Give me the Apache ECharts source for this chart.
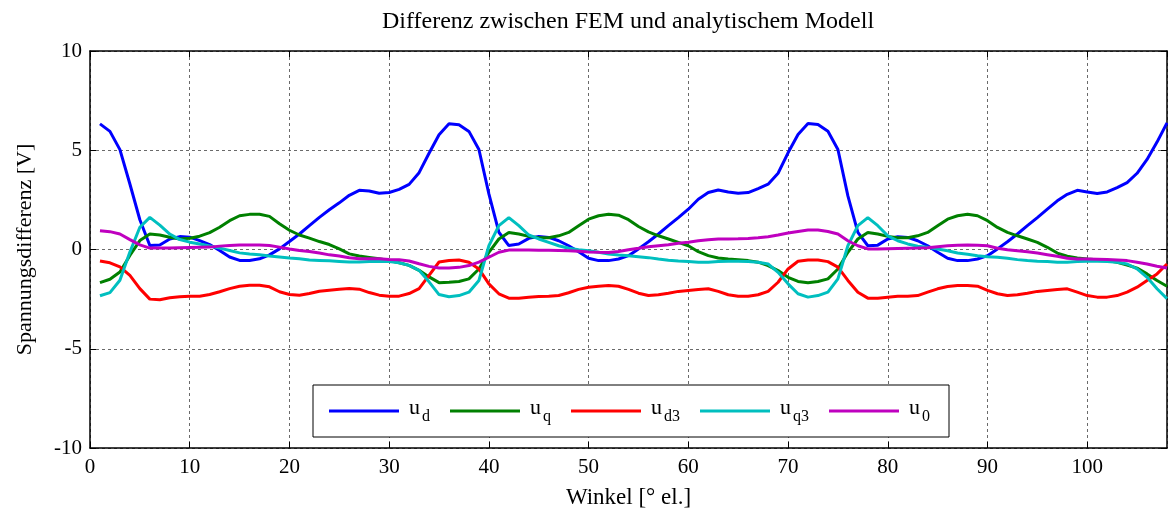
<!DOCTYPE html>
<html>
<head>
<meta charset="utf-8">
<script src="https://cdn.jsdelivr.net/npm/echarts@6/dist/echarts.min.js"></script>
<style>
html,body{margin:0;padding:0;background:#fff;}
#chart{width:1168px;height:514px;}
</style>
</head>
<body>
<div id="chart"></div>
<script>
// Winkel [° el.] 1..108 (sample index)
const angles = Array.from({length: 108}, (_, i) => i + 1);
const xTicks = [0, 10, 20, 30, 40, 50, 60, 70, 80, 90, 100];
const yTicks = [-10, -5, 0, 5, 10];

const u_d = [
  6.33,5.95,5.03,3.3,1.5, 0.2,0.23,0.53,0.65,0.62, 0.45,0.25,-0.05,-0.38,-0.55, -0.55,-0.47,-0.27,0.03,0.4,
  0.78,1.2,1.62,2.0,2.35, 2.73,2.98,2.95,2.83,2.87, 3.03,3.28,3.87,4.85,5.78, 6.33,
  6.29,5.95,5.04,2.8,0.87, 0.2,0.28,0.56,0.66,0.61, 0.44,0.19,-0.11,-0.44,-0.56, -0.56,-0.48,-0.31,0.03,0.39,
  0.78,1.2,1.61,2.03,2.53, 2.87,3.0,2.9,2.83,2.87, 3.07,3.29,3.84,4.87,5.79, 6.35,
  6.3,5.96,5.04,2.7,0.86, 0.19,0.22,0.53,0.64,0.61, 0.44,0.19,-0.14,-0.44,-0.56, -0.56,-0.48,-0.31,0.03,0.39,
  0.78,1.2,1.61,2.03,2.45, 2.78,2.98,2.9,2.82,2.9, 3.12,3.37,3.84,4.54,5.41, 6.38
];
const u_q = [
  -1.67,-1.5,-1.13,-0.3,0.45, 0.78,0.73,0.62,0.53,0.57, 0.67,0.85,1.12,1.45,1.7, 1.77,1.78,1.67,1.3,0.97,
  0.73,0.57,0.4,0.25,0.03, -0.22,-0.33,-0.4,-0.47,-0.55, -0.67,-0.8,-1.05,-1.38,-1.67, -1.65,
  -1.61,-1.48,-0.98,-0.14,0.53, 0.86,0.78,0.66,0.59,0.59, 0.69,0.86,1.2,1.53,1.7, 1.78,1.73,1.5,1.16,0.89,
  0.69,0.53,0.36,0.19,-0.11, -0.31,-0.43,-0.48,-0.51,-0.56, -0.64,-0.81,-1.06,-1.4,-1.61, -1.68,
  -1.61,-1.48,-0.98,-0.14,0.53, 0.86,0.78,0.66,0.59,0.59, 0.69,0.86,1.2,1.53,1.7, 1.78,1.7,1.45,1.11,0.86,
  0.69,0.53,0.36,0.11,-0.18, -0.34,-0.43,-0.48,-0.51,-0.56, -0.64,-0.78,-0.94,-1.23,-1.56, -1.85
];
const u_d3 = [
  -0.58,-0.67,-0.88,-1.3,-1.97, -2.5,-2.53,-2.43,-2.38,-2.35, -2.35,-2.27,-2.13,-1.97,-1.85, -1.8,-1.8,-1.88,-2.13,-2.27,
  -2.3,-2.22,-2.1,-2.05,-2.0, -1.97,-2.0,-2.17,-2.3,-2.35, -2.35,-2.22,-1.97,-1.3,-0.63, -0.55,
  -0.53,-0.64,-0.98,-1.73,-2.23, -2.45,-2.45,-2.4,-2.37,-2.35, -2.32,-2.18,-2.01,-1.9,-1.85, -1.81,-1.85,-2.01,-2.2,-2.32,
  -2.28,-2.2,-2.11,-2.06,-2.01, -1.98,-2.11,-2.28,-2.35,-2.35, -2.28,-2.11,-1.65,-0.98,-0.59, -0.53,
  -0.53,-0.61,-0.89,-1.56,-2.15, -2.45,-2.45,-2.4,-2.35,-2.35, -2.32,-2.15,-1.98,-1.86,-1.81, -1.81,-1.85,-2.06,-2.23,-2.32,
  -2.28,-2.2,-2.11,-2.06,-2.01, -1.98,-2.15,-2.32,-2.4,-2.4, -2.32,-2.15,-1.9,-1.56,-1.23, -0.73
];
const u_q3 = [
  -2.33,-2.17,-1.55,-0.13,1.12, 1.62,1.23,0.78,0.5,0.37, 0.28,0.18,0.07,-0.05,-0.17, -0.23,-0.27,-0.33,-0.38,-0.43,
  -0.47,-0.53,-0.55,-0.57,-0.6, -0.63,-0.63,-0.6,-0.6,-0.6, -0.67,-0.8,-1.05,-1.63,-2.27, -2.38,
  -2.32,-2.15,-1.56,0.19,1.2, 1.61,1.2,0.73,0.53,0.36, 0.19,0.06,-0.01,-0.06,-0.14, -0.23,-0.28,-0.31,-0.36,-0.41,
  -0.48,-0.54,-0.58,-0.61,-0.64, -0.64,-0.61,-0.59,-0.59,-0.61, -0.64,-0.73,-1.15,-1.73,-2.23, -2.4,
  -2.32,-2.15,-1.48,0.19,1.2, 1.61,1.2,0.69,0.44,0.28, 0.16,0.11,0.03,-0.06,-0.18, -0.24,-0.31,-0.36,-0.39,-0.44,
  -0.51,-0.56,-0.59,-0.61,-0.64, -0.64,-0.61,-0.59,-0.59,-0.61, -0.64,-0.73,-0.98,-1.4,-1.98, -2.48
];
const u_0 = [
  0.95,0.9,0.78,0.5,0.23, 0.07,0.07,0.08,0.09,0.1, 0.11,0.12,0.17,0.2,0.23, 0.23,0.23,0.2,0.12,0.03,
  -0.05,-0.1,-0.18,-0.27,-0.33, -0.42,-0.47,-0.47,-0.47,-0.5, -0.52,-0.58,-0.72,-0.85,-0.93, -0.93,
  -0.9,-0.81,-0.64,-0.39,-0.14, -0.03,-0.03,-0.03,-0.04,-0.04, -0.05,-0.06,-0.09,-0.12,-0.14, -0.15,-0.1,-0.01,0.06,0.14,
  0.19,0.24,0.31,0.36,0.44, 0.49,0.53,0.53,0.54,0.56, 0.59,0.64,0.73,0.83,0.91, 0.98,
  0.98,0.91,0.78,0.44,0.19, 0.03,0.03,0.04,0.05,0.06, 0.07,0.09,0.14,0.19,0.21, 0.23,0.22,0.19,0.06,-0.01,
  -0.06,-0.11,-0.18,-0.26,-0.34, -0.44,-0.48,-0.48,-0.49,-0.51, -0.53,-0.56,-0.64,-0.73,-0.84, -0.93
];

const seriesNames = ['u_d', 'u_q', 'u_d3', 'u_q3', 'u_0'];
const seriesSubs = {u_d: 'd', u_q: 'q', u_d3: 'd3', u_q3: 'q3', u_0: '0'};
const seriesValues = [u_d, u_q, u_d3, u_q3, u_0];
const seriesColors = ['#0000ff', '#008000', '#ff0000', '#00bfbf', '#bf00bf'];

const FONT = '"Liberation Serif", "DejaVu Serif", serif';
const chart = echarts.init(document.getElementById('chart'), null, {renderer: 'canvas'});

const gridLine = {show: true, lineStyle: {color: '#444', width: 0.8, type: [3, 3]}};
const xLabelFmt = v => (xTicks.indexOf(v) >= 0 ? String(v) : '');

const option = {
  backgroundColor: '#fff',
  animation: false,
  graphic: [{
    type: 'text', x: 628, y: 10,
    style: {text: 'Differenz zwischen FEM und analytischem Modell', font: '24px ' + FONT, fill: '#000', align: 'center', textAlign: 'center', verticalAlign: 'top'}
  }],
  grid: {left: 90, right: 1, top: 51, bottom: 64, containLabel: false},
  legend: {
    data: seriesNames,
    left: 313, top: 385,
    orient: 'horizontal',
    backgroundColor: '#fff',
    borderColor: '#000', borderWidth: 1, borderRadius: 0,
    padding: [12, 19, 12, 16],
    itemWidth: 70, itemHeight: 3, icon: 'rect', itemGap: 20,
    formatter: name => '{m|u}{s|' + seriesSubs[name] + '}',
    textStyle: {
      color: '#000',
      rich: {
        m: {fontFamily: FONT, fontSize: 22, color: '#000', verticalAlign: 'top', lineHeight: 22, padding: [0, 0, 0, 5]},
        s: {fontFamily: FONT, fontSize: 16, color: '#000', verticalAlign: 'bottom', lineHeight: 28, padding: [10, 0, 0, 2]}
      }
    }
  },
  xAxis: [{
    type: 'value', min: 0, max: 108, interval: 10, position: 'bottom',
    name: 'Winkel [° el.]', nameLocation: 'middle', nameGap: 38,
    nameTextStyle: {fontFamily: FONT, fontSize: 23, color: '#000'},
    axisLine: {show: true, onZero: false, lineStyle: {color: '#000', width: 1.5}},
    axisTick: {show: true, inside: true, length: 6, lineStyle: {color: '#000', width: 1}},
    axisLabel: {fontFamily: FONT, fontSize: 21, color: '#000', margin: 9, formatter: xLabelFmt, showMaxLabel: false},
    splitLine: gridLine
  }, {
    type: 'value', min: 0, max: 108, interval: 10, position: 'top',
    axisLine: {show: true, onZero: false, lineStyle: {color: '#000', width: 1.5}},
    axisTick: {show: true, inside: true, length: 6, lineStyle: {color: '#000', width: 1}},
    axisLabel: {show: false}, splitLine: {show: false}
  }],
  yAxis: [{
    type: 'value', min: -10, max: 10, interval: 5, position: 'left',
    name: 'Spannungsdifferenz [V]', nameLocation: 'middle', nameGap: 54,
    nameTextStyle: {fontFamily: FONT, fontSize: 22, color: '#000'},
    axisLine: {show: true, onZero: false, lineStyle: {color: '#000', width: 1.5}},
    axisTick: {show: true, inside: true, length: 6, lineStyle: {color: '#000', width: 1}},
    axisLabel: {fontFamily: FONT, fontSize: 21, color: '#000', margin: 8},
    splitLine: gridLine
  }, {
    type: 'value', min: -10, max: 10, interval: 5, position: 'right',
    axisLine: {show: true, onZero: false, lineStyle: {color: '#000', width: 1.5}},
    axisTick: {show: true, inside: true, length: 6, lineStyle: {color: '#000', width: 1}},
    axisLabel: {show: false}, splitLine: {show: false}
  }],
  series: seriesNames.map((name, k) => ({
    name: name,
    type: 'line',
    xAxisIndex: 0, yAxisIndex: 0,
    showSymbol: false, symbol: 'none',
    lineStyle: {color: seriesColors[k], width: 3},
    itemStyle: {color: seriesColors[k]},
    data: angles.map((a, i) => [a, seriesValues[k][i]]),
    z: 2
  }))
};
chart.setOption(option);
</script>
</body>
</html>
